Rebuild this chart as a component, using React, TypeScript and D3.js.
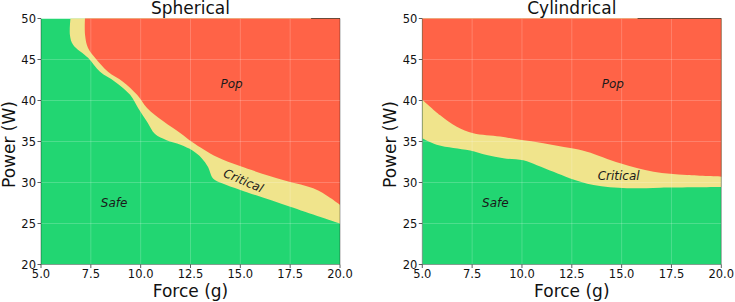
import React from "react";
import * as d3 from "d3";

// ---- data ----
const xTicks = [5.0, 7.5, 10.0, 12.5, 15.0, 17.5, 20.0];
const yTicks = [20, 25, 30, 35, 40, 45, 50];

// Spherical: safe/critical boundary
const sphLowerX = [6.49, 6.45, 6.61, 7.36, 7.96, 8.71, 9.47, 9.87, 10.32, 10.72, 11.3, 12.0, 12.6, 13.05, 13.38, 13.63, 14.08, 15.0, 17.5, 20.0];
const sphLowerY = [50.3, 48.0, 46.8, 45.2, 43.5, 42.3, 40.7, 39.1, 37.4, 35.9, 35.15, 34.6, 33.9, 33.0, 31.9, 30.5, 29.9, 29.1, 27.05, 25.0];
// Spherical: critical/pop boundary
const sphUpperX = [7.21, 7.21, 7.36, 7.71, 8.36, 9.11, 9.82, 10.32, 11.12, 12.0, 12.6, 13.83, 14.98, 17.14, 18.85, 20.0];
const sphUpperY = [50.3, 48.0, 46.4, 45.2, 43.5, 42.3, 40.7, 39.1, 37.5, 36.0, 34.9, 33.1, 32.0, 30.3, 29.1, 27.3];

// Cylindrical: safe/critical boundary
const cylLowerX = [5.0, 5.72, 6.56, 7.4, 8.23, 9.07, 10.07, 10.75, 11.58, 12.42, 13.59, 15.27, 16.94, 20.0];
const cylLowerY = [35.4, 34.6, 34.2, 33.9, 33.35, 32.95, 32.7, 32.1, 31.3, 30.5, 29.7, 29.3, 29.37, 29.45];
// Cylindrical: critical/pop boundary
const cylUpperX = [5.0, 5.9, 6.73, 7.56, 8.9, 9.9, 11.08, 12.42, 13.26, 14.93, 16.6, 18.28, 20.0];
const cylUpperY = [40.1, 38.2, 36.8, 36.0, 35.6, 35.2, 34.8, 34.2, 33.76, 32.34, 31.3, 30.9, 30.7];

const COLORS = { safe: "#22d672", critical: "#f0e48c", pop: "#ff6347" };
const FONT = "'DejaVu Sans', sans-serif";

type Panel = {
  title: string;
  left: number;
  lowerX: number[];
  lowerY: number[];
  upperX: number[];
  upperY: number[];
  critical: { x: number; y: number; rot: number; anchor: string };
  topSpineFrom: number;
};

const W = 299;
const TOP = 18.5;
const BOTTOM = 264.5;

function PanelView({ p, idx }: { p: Panel; idx: number }) {
  const x = d3.scaleLinear().domain([5, 20]).range([p.left, p.left + W]);
  const y = d3.scaleLinear().domain([20, 50]).range([BOTTOM, TOP]);
  const line = d3
    .line<[number, number]>()
    .x((d) => x(d[0]))
    .y((d) => y(d[1]))
    .curve(d3.curveCatmullRom.alpha(0.5));

  const lowerPts = p.lowerX.map((v, i) => [v, p.lowerY[i]] as [number, number]);
  const upperPts = p.upperX.map((v, i) => [v, p.upperY[i]] as [number, number]);
  const close = (pts: [number, number][]) => {
    const first = pts[0];
    const tail = `L${x(20.5)},${y(pts[pts.length - 1][1])}L${x(20.5)},${y(51)}L${x(first[0] <= 5 ? 4.5 : first[0])},${y(51)}`;
    const head = first[0] <= 5 ? `L${x(4.5)},${y(first[1])}Z` : "Z";
    return line(pts) + tail + head;
  };
  const clipId = `clip${idx}`;
  const tickLen = 3.5;

  return (
    <g>
      <defs>
        <clipPath id={clipId}>
          <rect x={x(5)} y={y(50)} width={x(20) - x(5)} height={y(20) - y(50)} />
        </clipPath>
      </defs>
      <g clipPath={`url(#${clipId})`}>
        <rect x={x(5)} y={y(50)} width={x(20) - x(5)} height={y(20) - y(50)} fill={COLORS.safe} />
        <path d={close(lowerPts)} fill={COLORS.critical} />
        <path d={close(upperPts)} fill={COLORS.pop} />
        {xTicks.slice(1, -1).map((t) => (
          <line key={"gx" + t} x1={x(t)} x2={x(t)} y1={y(20)} y2={y(50)} stroke="#fff" strokeOpacity={0.22} strokeWidth={0.9} />
        ))}
        {yTicks.slice(1, -1).map((t) => (
          <line key={"gy" + t} x1={x(5)} x2={x(20)} y1={y(t)} y2={y(t)} stroke="#fff" strokeOpacity={0.22} strokeWidth={0.9} />
        ))}
        <text x={x(14)} y={y(42)} dominantBaseline="central" fontFamily={FONT} fontStyle="italic" fontSize={12} fill="#1a1a1a">
          Pop
        </text>
        <text x={x(8)} y={y(27.55)} dominantBaseline="central" fontFamily={FONT} fontStyle="italic" fontSize={12} fill="#1a1a1a">
          Safe
        </text>
        <text
          x={x(p.critical.x)}
          y={y(p.critical.y)}
          dominantBaseline="central"
          textAnchor={p.critical.anchor as any}
          transform={`rotate(${p.critical.rot},${x(p.critical.x)},${y(p.critical.y)})`}
          fontFamily={FONT}
          fontStyle="italic"
          fontSize={12}
          fill="#1a1a1a"
        >
          Critical
        </text>
      </g>
      {/* spines */}
      <g fill="none" stroke="#000" strokeOpacity={0.35} strokeWidth={1}>
        <line x1={x(5)} x2={x(5)} y1={y(50)} y2={y(20)} />
        <line x1={x(5)} x2={x(20)} y1={y(20)} y2={y(20)} />
        <line x1={x(20)} x2={x(20)} y1={y(50)} y2={y(20)} />
        <line x1={x(p.topSpineFrom)} x2={x(20)} y1={y(50)} y2={y(50)} strokeOpacity={0.55} />
      </g>
      {/* ticks */}
      {yTicks.map((t) => (
        <g key={"yt" + t}>
          <line x1={x(5) - tickLen} x2={x(5)} y1={y(t)} y2={y(t)} stroke="#333" strokeWidth={0.8} />
          <text x={x(5) - tickLen - 1.5} y={y(t)} dominantBaseline="central" textAnchor="end" fontFamily={FONT} fontSize={11.5} fill="#111">
            {t}
          </text>
        </g>
      ))}
      {xTicks.map((t) => (
        <g key={"xt" + t}>
          <line x1={x(t)} x2={x(t)} y1={y(20)} y2={y(20) + tickLen} stroke="#333" strokeWidth={0.8} />
          <text x={x(t)} y={y(20) + 13.5} textAnchor="middle" fontFamily={FONT} fontSize={11.5} fill="#111">
            {t.toFixed(1)}
          </text>
        </g>
      ))}
      <text x={(x(5) + x(20)) / 2} y={14} textAnchor="middle" fontFamily={FONT} fontSize={17} fill="#111">
        {p.title}
      </text>
      <text x={(x(5) + x(20)) / 2} y={296.5} textAnchor="middle" fontFamily={FONT} fontSize={17} fill="#111">
        Force (g)
      </text>
      <text
        transform={`translate(${x(5) - 26},${(y(20) + y(50)) / 2 + 3}) rotate(-90)`}
        textAnchor="middle"
        fontFamily={FONT}
        fontSize={17}
        fill="#111"
      >
        Power (W)
      </text>
    </g>
  );
}

const panels: Panel[] = [
  {
    title: "Spherical",
    left: 41,
    lowerX: sphLowerX,
    lowerY: sphLowerY,
    upperX: sphUpperX,
    upperY: sphUpperY,
    critical: { x: 15.15, y: 30.2, rot: 23, anchor: "middle" },
    topSpineFrom: 18.55,
  },
  {
    title: "Cylindrical",
    left: 422.3,
    lowerX: cylLowerX,
    lowerY: cylLowerY,
    upperX: cylUpperX,
    upperY: cylUpperY,
    critical: { x: 14.85, y: 30.8, rot: 0, anchor: "middle" },
    topSpineFrom: 15.8,
  },
];

export default function App() {
  return (
    <div style={{ position: "absolute", left: 0, top: 0 }}>
      <svg width={735} height={302} style={{ display: "block", background: "#fff" }}>
        {panels.map((p, i) => (
          <PanelView key={p.title} p={p} idx={i} />
        ))}
      </svg>
    </div>
  );
}
